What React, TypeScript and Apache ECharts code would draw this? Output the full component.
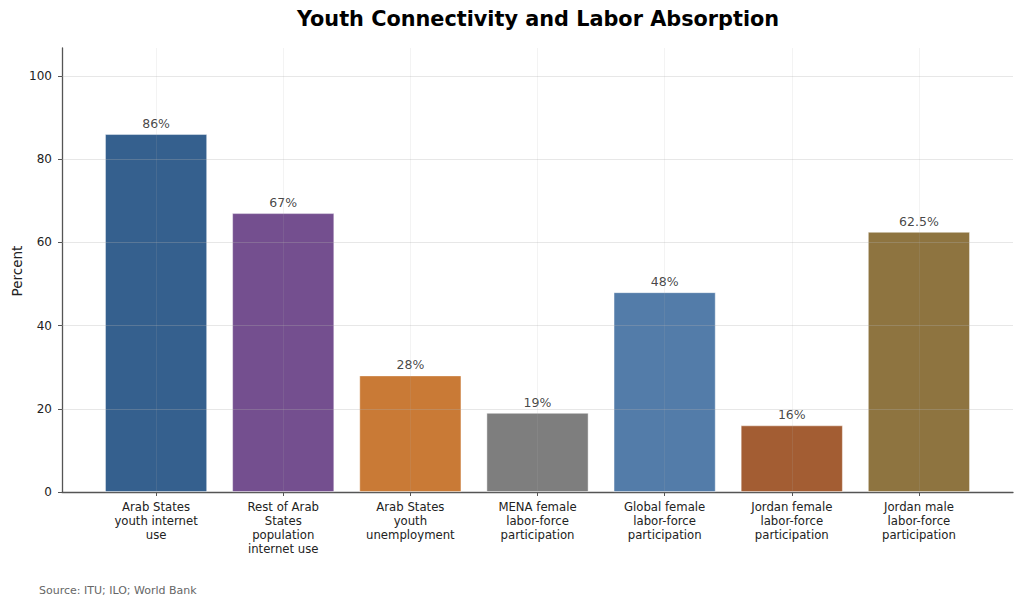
import React, { useEffect, useRef } from "react";
import * as echarts from "echarts";

const categories = [
  "Arab States\nyouth internet\nuse",
  "Rest of Arab\nStates\npopulation\ninternet use",
  "Arab States\nyouth\nunemployment",
  "MENA female\nlabor-force\nparticipation",
  "Global female\nlabor-force\nparticipation",
  "Jordan female\nlabor-force\nparticipation",
  "Jordan male\nlabor-force\nparticipation",
];
const values = [86, 67, 28, 19, 48, 16, 62.5];
const valueLabels = ["86%", "67%", "28%", "19%", "48%", "16%", "62.5%"];
const barColors = ["#2e5b8a", "#6f498b", "#c77630", "#7a7a7a", "#4d78a6", "#a0582c", "#8a6f3a"];
const yTicks = [0, 20, 40, 60, 80, 100];

const FONT = "DejaVu Sans";

export default function App() {
  const ref = useRef<HTMLDivElement>(null);
  useEffect(() => {
    if (!ref.current) return;
    const chart = echarts.init(ref.current, null, { renderer: "svg" });
    const idx = categories.map((_, i) => i);
    chart.setOption({
      animation: false,
      backgroundColor: "#ffffff",
      graphic: [
        {
          type: "text",
          x: 538,
          y: 19,
          style: {
            text: "Youth Connectivity and Labor Absorption",
            font: `bold 20.8px "${FONT}"`,
            fill: "#000",
            align: "center",
            verticalAlign: "middle",
          },
        },
        {
          type: "text",
          x: 17,
          y: 271,
          rotation: Math.PI / 2,
          style: {
            text: "Percent",
            font: `13.5px "${FONT}"`,
            fill: "#222",
            align: "center",
            verticalAlign: "middle",
          },
        },
        {
          type: "text",
          x: 39,
          y: 590,
          style: {
            text: "Source: ITU; ILO; World Bank",
            font: `11px "${FONT}"`,
            fill: "#666",
            verticalAlign: "middle",
          },
        },
      ],
      grid: { left: 62, right: 11, top: 48, bottom: 113, containLabel: false, outerBoundsMode: "none" },
      xAxis: {
        type: "value",
        min: -0.74,
        max: 6.74,
        axisLine: { show: true, onZero: false, lineStyle: { color: "#555", width: 1.3 } },
        axisTick: { show: true, customValues: idx, length: 4, lineStyle: { color: "#555" } },
        axisLabel: {
          customValues: idx,
          formatter: (v: number) => categories[Math.round(v)] ?? "",
          fontFamily: FONT,
          fontSize: 11.7,
          lineHeight: 14,
          color: "#222",
          margin: 8,
          verticalAlign: "top",
        },
        splitLine: { show: false },
      },
      yAxis: {
        type: "value",
        min: 0,
        max: 106.7,
        axisLine: { show: true, onZero: false, lineStyle: { color: "#555", width: 1.3 } },
        axisTick: { show: true, customValues: yTicks, length: 4, lineStyle: { color: "#555" } },
        axisLabel: { customValues: yTicks, fontFamily: FONT, fontSize: 12, color: "#222", margin: 10 },
        splitLine: { show: false },
      },
      series: [
        {
          type: "bar",
          barWidth: 102,
          data: values.map((v, i) => ({
            value: [i, v],
            itemStyle: { color: barColors[i], opacity: 0.97, borderColor: "rgba(255,255,255,0.55)", borderWidth: 0.8 },
          })),
          label: {
            show: true,
            position: "top",
            distance: 4,
            formatter: (p: any) => valueLabels[p.dataIndex],
            fontFamily: FONT,
            fontSize: 12.5,
            color: "#444",
          },
          markLine: {
            silent: true,
            symbol: "none",
            label: { show: false },
            data: [
              ...yTicks.slice(1).map((y) => ({
                yAxis: y,
                lineStyle: { color: "rgba(176,176,176,0.3)", type: "solid", width: 1 },
              })),
              ...idx.map((x) => ({
                xAxis: x,
                lineStyle: { color: "rgba(176,176,176,0.15)", type: "solid", width: 1 },
              })),
            ],
          },
        },
      ],
    });
    return () => chart.dispose();
  }, []);
  return <div ref={ref} style={{ width: 1024, height: 605, margin: -8 }} />;
}
